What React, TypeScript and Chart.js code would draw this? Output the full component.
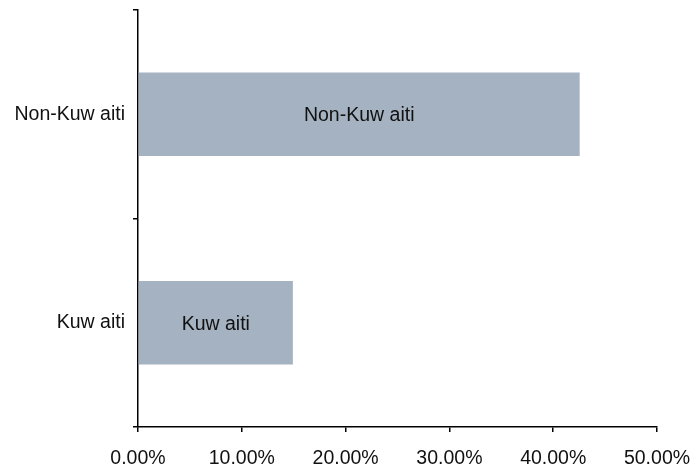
import React, { useEffect, useRef } from "react";
import { Chart, registerables } from "chart.js";

Chart.register(...registerables);

const categories = ["Non-Kuw aiti", "Kuw aiti"];
const shares = [42.55, 14.92];
const xTicks = [0, 10, 20, 30, 40, 50];

const FONT = "'Liberation Sans', Arial, sans-serif";
const FS = 19.5;

const barLabelPlugin = {
  id: "barLabels",
  afterDatasetsDraw(chart: any) {
    const ctx = chart.ctx;
    const meta = chart.getDatasetMeta(0);
    ctx.save();
    ctx.font = `${FS}px ${FONT}`;
    ctx.fillStyle = "#111";
    ctx.textAlign = "center";
    ctx.textBaseline = "middle";
    meta.data.forEach((bar: any, i: number) => {
      const cx = (bar.x + bar.base) / 2;
      ctx.fillText(categories[i], cx, bar.y + 1.5);
    });
    ctx.restore();
  },
};

export default function App() {
  const ref = useRef<HTMLCanvasElement | null>(null);
  useEffect(() => {
    if (!ref.current) return;
    const chart = new Chart(ref.current, {
      type: "bar",
      data: {
        labels: categories,
        datasets: [
          {
            data: shares,
            backgroundColor: "#a4b2c1",
            borderWidth: 0,
            barPercentage: 0.4,
            categoryPercentage: 1,
          },
        ],
      },
      options: {
        indexAxis: "y",
        responsive: false,
        animation: false,
        devicePixelRatio: 1,
        layout: { padding: { top: 10, right: 39, left: 0, bottom: 0 } },
        plugins: { legend: { display: false }, tooltip: { enabled: false } },
        scales: {
          x: {
            min: 0,
            max: 50,
            afterBuildTicks: (scale: any) => {
              scale.ticks = xTicks.map((v) => ({ value: v }));
            },
            afterFit: (scale: any) => {
              scale.height = 45;
              scale.paddingLeft = 0;
              scale.paddingRight = 0;
            },
            border: { display: true, color: "#000", width: 1.5 },
            grid: {
              display: true,
              drawOnChartArea: false,
              drawTicks: true,
              tickLength: 5,
              color: "#000",
              lineWidth: 1.5,
            },
            ticks: {
              color: "#111",
              font: { family: FONT, size: FS },
              padding: 15,
              maxRotation: 0,
              callback: (v: any) => Number(v).toFixed(2) + "%",
            },
          },
          y: {
            afterFit: (scale: any) => {
              scale.width = 138;
              scale.paddingTop = 0;
              scale.paddingBottom = 0;
            },
            border: { display: true, color: "#000", width: 1.5 },
            grid: {
              display: true,
              offset: true,
              drawOnChartArea: false,
              drawTicks: true,
              tickLength: 5,
              color: "#000",
              lineWidth: 1.5,
            },
            ticks: {
              color: "#111",
              font: { family: FONT, size: FS },
              padding: 8,
            },
          },
        },
      },
      plugins: [barLabelPlugin],
    });
    return () => chart.destroy();
  }, []);
  return (
    <div style={{ position: "fixed", left: 0, top: 0, width: 696, height: 472, background: "#fff" }}>
      <canvas ref={ref} width={696} height={472} style={{ display: "block" }} />
    </div>
  );
}
